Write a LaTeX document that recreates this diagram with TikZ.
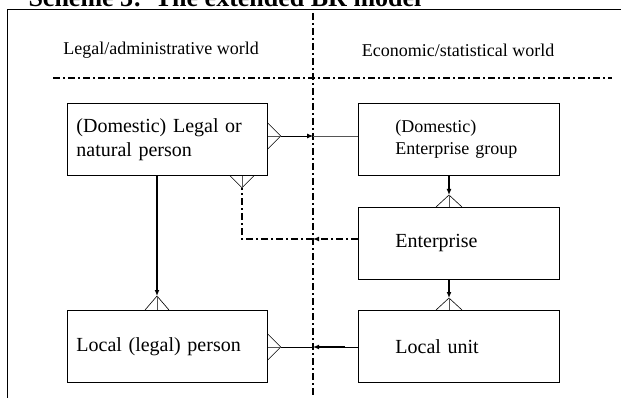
\documentclass[tikz,border=0pt]{standalone}
\usepackage{fontspec}
\setmainfont{Liberation Serif}
\usetikzlibrary{arrows.meta,positioning,calc}
\definecolor{Grey}{HTML}{555555}

\begin{document}
\begin{tikzpicture}[x=1pt,y=-1pt,
  lbox/.style={draw,line width=0.8pt,minimum width=200pt,minimum height=72pt,
    text width=182pt,inner xsep=9pt,align=left,anchor=north west,
    font=\fontsize{20}{24}\selectfont},
  rbox/.style={draw,line width=0.8pt,minimum width=201pt,minimum height=72pt,
    text width=127pt,inner xsep=37pt,align=left,anchor=north west,
    font=\fontsize{20}{24}\selectfont},
  world/.style={font=\fontsize{18}{21}\selectfont},
  divide/.style={line width=1.4pt,dash pattern=on 7pt off 3pt on 2pt off 3pt},
  link/.style={line width=0.8pt},
  strong/.style={line width=1.8pt},
  tip/.style={-{Latex[length=6pt,width=5pt]}},
  crow/.style={line width=0.6pt}]
  \useasboundingbox (0,0) rectangle (621,398);

  % title and frame
  \node[anchor=base west,font=\fontsize{26}{30}\selectfont\bfseries] (title) at (25,7)
    {Scheme 3:\ \ The extended BR model};
  \draw[line width=0.8pt] (7,400) -- (7,9) -- (625,9);

  % the two worlds
  \node[world] (legal) at (161,50) {Legal/administrative world};
  \node[world] (econ) at (458,50) {Economic/statistical world};
  \draw[divide] (313,13) -- (313,398);
  \draw[divide] (53,78) -- (612,78);

  % units
  \node[lbox] (person) at (67,103) {(Domestic) Legal or\\natural person};
  \node[lbox] (local) at (67,310) {Local (legal) person};
  \node[rbox,font=\fontsize{18}{22}\selectfont] (group) at (358,103)
    {(Domestic)\\Enterprise group};
  \node[rbox] (ent) at (358,207) {Enterprise};
  \node[rbox] (unit) at (358,310) {Local unit};

  % crossing points on the divide
  \coordinate (x1) at (313,136);
  \coordinate (x2) at (313,239);
  \coordinate (x3) at (313,347);
  \coordinate (k1) at (242,239);

  % group -- person
  \coordinate (c1) at ($(person.north east)+(13,33)$);
  \draw[crow] ($(c1)+(-13,-13)$) -- (c1) -- ($(c1)+(-13,13)$);
  \draw[crow,Grey] (c1) -- ++(-13,0);
  \draw[link,tip] (c1) -- (x1);
  \draw[link,Grey] (x1) -- (group.west |- x1);

  % group -- enterprise
  \coordinate (c2) at ($(ent.north west)+(91,-12)$);
  \draw[strong,tip] (group.south -| c2) -- (c2);
  \draw[crow] ($(c2)+(-13,12)$) -- (c2) -- ($(c2)+(13,12)$);
  \draw[crow,Grey] (c2) -- ++(0,12);

  % enterprise -- local unit
  \coordinate (c3) at ($(unit.north west)+(91,-12)$);
  \draw[strong,tip] (ent.south -| c3) -- (c3);
  \draw[crow] ($(c3)+(-13,12)$) -- (c3) -- ($(c3)+(13,12)$);
  \draw[crow,Grey] (c3) -- ++(0,12);

  % person -- local person
  \coordinate (c4) at ($(local.north west)+(90,-14)$);
  \draw[strong,tip] (person.south -| c4) -- (c4);
  \draw[crow] ($(c4)+(-12,14)$) -- (c4) -- ($(c4)+(12,14)$);
  \draw[crow,Grey] (c4) -- ++(0,14);

  % enterprise -- person
  \coordinate (c5) at ($(person.south west)+(175,12)$);
  \draw[crow] ($(c5)+(-12,-12)$) -- (c5) -- ($(c5)+(12,-12)$);
  \draw[crow,Grey] (c5) -- ++(0,-12);
  \draw[divide,line width=1.2pt,tip] (ent.west |- x2) -- (x2);
  \draw[divide,line width=1.2pt] (x2) -- (k1) -- (c5);

  % local unit -- local person
  \coordinate (c6) at ($(local.north east)+(13,37)$);
  \draw[crow] ($(c6)+(-13,-13)$) -- (c6) -- ($(c6)+(-13,13)$);
  \draw[crow,Grey] (c6) -- ++(-13,0);
  \draw[link] (c6) -- (x3);
  \draw[strong,tip] ($(unit.west |- x3)+(-13,0)$) -- (x3);
  \draw[link] (unit.west |- x3) -- ++(-13,0);
\end{tikzpicture}
\end{document}
